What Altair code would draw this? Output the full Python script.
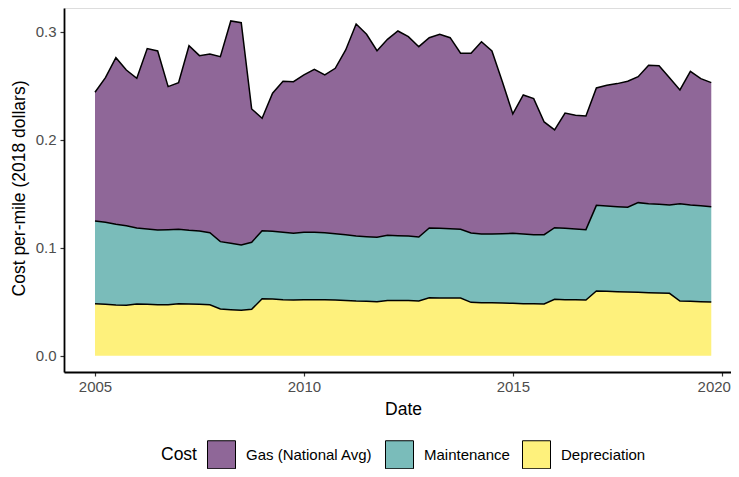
import altair as alt
import pandas as pd

dates = [2005.0, 2005.25, 2005.5, 2005.75, 2006.0, 2006.25, 2006.5, 2006.75,
         2007.0, 2007.25, 2007.5, 2007.75, 2008.0, 2008.25, 2008.5, 2008.75,
         2009.0, 2009.25, 2009.5, 2009.75, 2010.0, 2010.25, 2010.5, 2010.75,
         2011.0, 2011.25, 2011.5, 2011.75, 2012.0, 2012.25, 2012.5, 2012.75,
         2013.0, 2013.25, 2013.5, 2013.75, 2014.0, 2014.25, 2014.5, 2014.75,
         2015.0, 2015.25, 2015.5, 2015.75, 2016.0, 2016.25, 2016.5, 2016.75,
         2017.0, 2017.25, 2017.5, 2017.75, 2018.0, 2018.25, 2018.5, 2018.75,
         2019.0, 2019.25, 2019.5, 2019.75]

depreciation = [.0481, .0476, .0469, .0466, .0479, .0476, .0472, .0472, .0481, .0479, .0476, .0472,
                .0432, .0426, .0420, .0429,
                .0528, .0525, .0519, .0516, .0519, .0519, .0519, .0516,
                .0512, .0506, .0503, .0500, .0512, .0512, .0512, .0506,
                .0537, .0534, .0534, .0534, .0494, .0491, .0491, .0488,
                .0485, .0481, .0481, .0479, .0522, .0519, .0519, .0516,
                .0599, .0596, .0593, .0590, .0587, .0583, .0580, .0577,
                .0506, .0503, .0500, .0497]

maintenance = [.0766, .0759, .0747, .0738, .0703, .0697, .0692, .0695, .0689, .0682, .0679, .0667,
               .0624, .0615, .0605, .0621,
               .0629, .0627, .0623, .0617, .0623, .0623, .0620, .0614,
               .0608, .0602, .0599, .0596, .0602, .0599, .0596, .0593,
               .0645, .0645, .0642, .0636, .0642, .0636, .0636, .0642,
               .0648, .0646, .0639, .0641, .0663, .0660, .0654, .0651,
               .0793, .0790, .0787, .0784, .0830, .0824, .0821, .0818,
               .0901, .0892, .0889, .0883]

gas = [.1192, .1339, .1543, .1441, .1386, .1670, .1657, .1324, .1358, .1709, .1623, .1655,
       .1713, .2058, .2058, .1234,
       .1041, .1278, .1399, .1404, .1457, .1510, .1460, .1531,
       .1711, .1963, .1874, .1728, .1815, .1895, .1846, .1762,
       .1762, .1797, .1768, .1630, .1664, .1780, .1694, .1407,
       .1105, .1287, .1260, .1044, .0905, .1068, .1053, .1052,
       .1087, .1118, .1139, .1167, .1166, .1282, .1284, .1179,
       .1053, .1238, .1176, .1148]

series_names = ["Gas (National Avg)", "Maintenance", "Depreciation"]
series_colors = ["#8F6798", "#7ABCBA", "#FEF17C"]
x_ticks = [2005, 2010, 2015, 2020]
y_ticks = [0.0, 0.1, 0.2, 0.3]

rows = []
for i, d in enumerate(dates):
    rows.append({"date": d, "cost": "Depreciation", "value": depreciation[i], "ord": 0})
    rows.append({"date": d, "cost": "Maintenance", "value": maintenance[i], "ord": 1})
    rows.append({"date": d, "cost": "Gas (National Avg)", "value": gas[i], "ord": 2})
df = pd.DataFrame(rows)

FONT = "Liberation Sans"

x_enc = alt.X(
    "date:Q",
    scale=alt.Scale(domain=[2004.258, 2020.222], nice=False, zero=False),
    axis=alt.Axis(
        values=x_ticks, format="d", grid=False, title="Date",
        domainColor="black", domainWidth=1.8, tickColor="#333333", tickWidth=1.2,
        tickSize=4, labelColor="#4D4D4D", labelFontSize=15, labelPadding=3,
        labelFont=FONT, labelFlush=False,
        labelOffset={"condition": {"test": "datum.value >= 2020", "value": -8}, "value": 0},
        titleFont=FONT, titleFontSize=17.5, titleFontWeight="normal", titleColor="black",
        titleX=339, titleY=42, titleBaseline="alphabetic", titleAlign="center",
    ),
)
y_scale = alt.Scale(domain=[-0.0151, 0.3219], nice=False, zero=False)
y_axis = alt.Axis(
    values=y_ticks, format=".1f", grid=False, title="Cost per-mile (2018 dollars)",
    domainColor="black", domainWidth=1.8, tickColor="#333333", tickWidth=1.2,
    tickSize=4, labelColor="#4D4D4D", labelFontSize=15, labelPadding=4,
    labelFont=FONT, labelFlush=False,
    titleFont=FONT, titleFontSize=17.5, titleFontWeight="normal", titleColor="black",
    titleX=-45, titleY=180, titleAngle=270, titleBaseline="middle", titleAlign="center",
)

base = alt.Chart(df).transform_stack(
    stack="value", groupby=["date"], as_=["y0", "y1"],
    sort=[alt.SortField(field="ord", order="ascending")],
)

areas = base.mark_area(opacity=1).encode(
    x=x_enc,
    y=alt.Y("y1:Q", scale=y_scale, axis=y_axis),
    y2="y0:Q",
    color=alt.Color(
        "cost:N",
        scale=alt.Scale(domain=series_names, range=series_colors),
        legend=alt.Legend(
            title="Cost", orient="none", legendX=97, legendY=432,
            direction="horizontal", titleOrient="left",
            titleAnchor="middle", titleBaseline="middle",
            symbolType="square", symbolSize=784, symbolStrokeColor="black",
            symbolStrokeWidth=1, symbolOpacity=1,
            labelFont=FONT, labelFontSize=15, labelColor="black",
            labelOffset=10, columnPadding=10, padding=0,
            titleFont=FONT, titleFontSize=17.5, titleFontWeight="normal",
            titleColor="black", titlePadding=10, labelLimit=300,
        ),
    ),
)

lines = base.mark_line(color="black", strokeWidth=1.5).encode(
    x=x_enc,
    y=alt.Y("y1:Q", scale=y_scale),
    detail="cost:N",
)

chart = alt.layer(areas, lines).properties(
    width=667, height=364,
    autosize=alt.AutoSizeParams(type="none"),
    padding={"left": 56, "top": 0, "right": 0, "bottom": 97},
).configure_view(stroke=None).configure(font=FONT)

chart.save("out.html", embed_options={"renderer": "svg", "actions": False})
